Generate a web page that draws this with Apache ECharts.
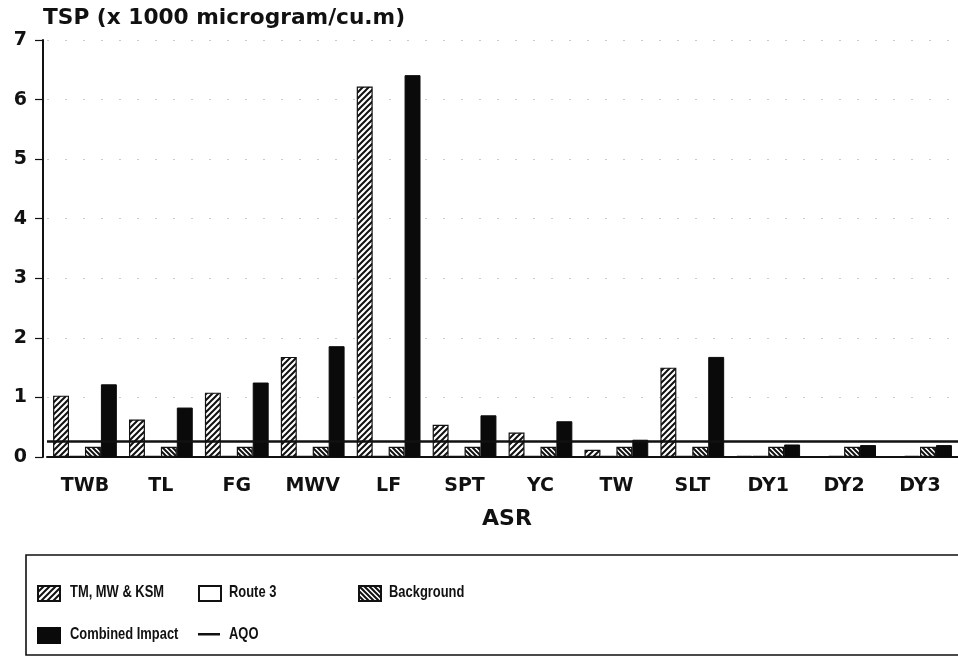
<!DOCTYPE html>
<html>
<head>
<meta charset="utf-8">
<script src="https://cdn.jsdelivr.net/npm/echarts@6/dist/echarts.min.js"></script>
<style>html,body{margin:0;padding:0;background:#fff;}#c{width:958px;height:657px;}</style>
</head>
<body>
<div id="c"></div>
<script>
const categories = ['TWB','TL','FG','MWV','LF','SPT','YC','TW','SLT','DY1','DY2','DY3'];
const tmMwKsm   = [1.03, 0.63, 1.08, 1.68, 6.22, 0.54, 0.41, 0.12, 1.50, 0.02, 0.01, 0.01];
const route3    = [0.02, 0.02, 0.02, 0.02, 0.02, 0.02, 0.02, 0.02, 0.02, 0.02, 0.02, 0.02];
const background= [0.17, 0.17, 0.17, 0.17, 0.17, 0.17, 0.17, 0.17, 0.17, 0.17, 0.17, 0.17];
const combined  = [1.22, 0.83, 1.25, 1.86, 6.41, 0.70, 0.60, 0.29, 1.68, 0.21, 0.20, 0.20];
const aqo = 0.26;
const yTicks = [0,1,2,3,4,5,6,7];
const seriesNames = ['TM, MW & KSM', 'Route 3', 'Background', 'Combined Impact', 'AQO'];

function hatch(dir, size, lw) {
  const c = document.createElement('canvas');
  c.width = size; c.height = size;
  const g = c.getContext('2d');
  g.fillStyle = '#fff'; g.fillRect(0,0,size,size);
  g.strokeStyle = '#111'; g.lineWidth = lw;
  g.beginPath();
  if (dir === '/') {
    for (let k = -1; k <= 1; k++) { g.moveTo(-1 + k*size, size + 1); g.lineTo(size + 1 + k*size, -1); }
  } else {
    for (let k = -1; k <= 1; k++) { g.moveTo(-1 + k*size, -1); g.lineTo(size + 1 + k*size, size + 1); }
  }
  g.stroke();
  return {image: c, repeat: 'repeat'};
}
const tmPat = hatch('/', 6, 2);
const bgPat = hatch('\\', 5, 2);

const mctx = document.createElement('canvas').getContext('2d');
function fitSize(text, family, weight, target, maxSize) {
  mctx.font = weight + ' 100px ' + family;
  const w = mctx.measureText(text).width;
  return Math.min(maxSize, 100 * target / w);
}
const MAIN = "'DejaVu Sans', 'Liberation Sans', sans-serif";
const LEG = "'Liberation Sans', 'Noto Sans', sans-serif";
const titleText = 'TSP (x 1000 microgram/cu.m)';
const titleSize = fitSize(titleText, MAIN, 'bold', 362, 22);

const chart = echarts.init(document.getElementById('c'), null, {renderer: 'canvas'});

function legendAt(name, left, top, extra) {
  return Object.assign({data: [{name: name, icon: 'rect'}], left: left, top: top, padding: 0,
    itemWidth: 22, itemHeight: 15, itemGap: 0, selectedMode: false, formatter: () => ''}, extra || {});
}
function legText(name, x, y) {
  return {type: 'text', x: x, y: y, scaleX: 0.76,
    style: {text: name, font: 'bold 17px ' + LEG, fill: '#111', verticalAlign: 'middle'}};
}

chart.setOption({
  animation: false,
  backgroundColor: '#fff',
  grid: {left: 47, top: 40, bottom: 200, right: -8, containLabel: false},
  graphic: [
    {type: 'text', x: 43, y: 18, style: {text: titleText, font: 'bold ' + titleSize.toFixed(1) + 'px ' + MAIN, fill: '#111', verticalAlign: 'middle'}},
    {type: 'text', x: 507, y: 519, style: {text: 'ASR', font: 'bold 22px ' + MAIN, fill: '#111', align: 'center', verticalAlign: 'middle'}},
    {type: 'rect', shape: {x: 26, y: 555, width: 960, height: 100}, style: {fill: 'none', stroke: '#111', lineWidth: 1.6}},
    legText(seriesNames[0], 70, 592),
    legText(seriesNames[1], 229, 592),
    legText(seriesNames[2], 389, 592),
    legText(seriesNames[3], 70, 634),
    legText(seriesNames[4], 229, 634)
  ],
  legend: [
    legendAt(seriesNames[0], 37, 585),
    legendAt(seriesNames[1], 198, 585),
    legendAt(seriesNames[2], 358, 585),
    legendAt(seriesNames[3], 37, 627),
    legendAt(seriesNames[4], 198, 633, {itemHeight: 2.5})
  ],
  xAxis: {
    type: 'category', data: categories,
    axisLine: {lineStyle: {color: '#111', width: 2}},
    axisTick: {alignWithLabel: true, length: 10, lineStyle: {color: '#111', width: 1.2}},
    axisLabel: {fontFamily: MAIN, fontWeight: 'bold', fontSize: 19, color: '#111', margin: 20}
  },
  yAxis: {
    type: 'value', min: 0, max: 7, interval: 1, offset: 4,
    axisLine: {show: true, lineStyle: {color: '#111', width: 2}},
    axisTick: {show: true, length: 8, lineStyle: {color: '#111', width: 1.2}},
    axisLabel: {fontFamily: MAIN, fontWeight: 'bold', fontSize: 19, color: '#111', margin: 16,
      formatter: v => yTicks.includes(v) ? String(v) : ''},
    splitLine: {show: true, lineStyle: {color: '#ccc', type: [2, 16], width: 1}}
  },
  series: [
    {name: seriesNames[0], type: 'bar', data: tmMwKsm, barGap: '0%', barCategoryGap: '16%',
     itemStyle: {color: tmPat, borderColor: '#111', borderWidth: 1.2}},
    {name: seriesNames[1], type: 'bar', data: route3, barGap: '0%', barCategoryGap: '16%',
     itemStyle: {color: '#fff', borderColor: '#111', borderWidth: 1.2}},
    {name: seriesNames[2], type: 'bar', data: background, barGap: '0%', barCategoryGap: '16%',
     itemStyle: {color: bgPat, borderColor: '#111', borderWidth: 1.2}},
    {name: seriesNames[3], type: 'bar', data: combined, barGap: '0%', barCategoryGap: '16%',
     itemStyle: {color: '#0a0a0a', borderColor: '#0a0a0a', borderWidth: 1}},
    {name: seriesNames[4], type: 'line', data: [], itemStyle: {color: '#111'}, lineStyle: {color: '#111', width: 2.5},
     symbol: 'none',
     markLine: {silent: true, symbol: 'none', label: {show: false}, lineStyle: {color: '#111', width: 2.5, type: 'solid'},
       data: [{yAxis: aqo}]}}
  ]
});
</script>
</body>
</html>
